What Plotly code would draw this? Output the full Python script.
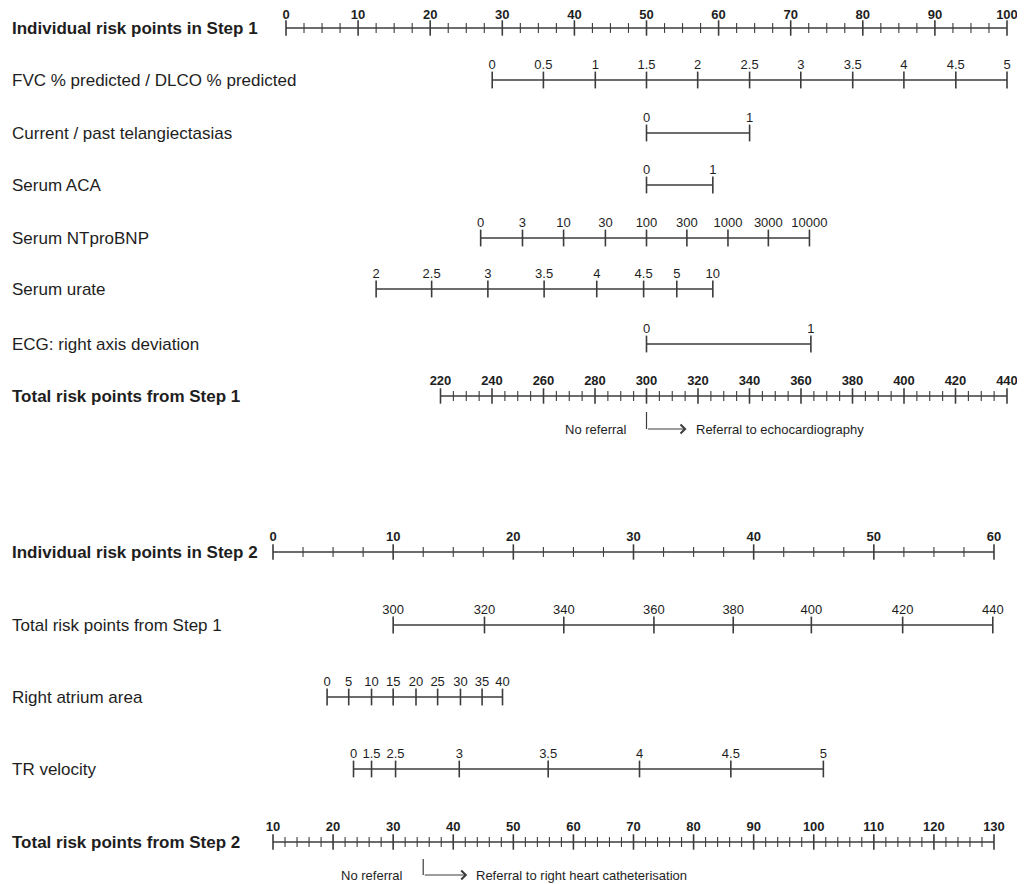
import plotly.graph_objects as go

# ---------------- data ----------------
STEP1_POINT_TICKS = [0, 10, 20, 30, 40, 50, 60, 70, 80, 90, 100]
STEP1_POINT_MINOR_STEP = 2.5

FVC_LABELS = ["0", "0.5", "1", "1.5", "2", "2.5", "3", "3.5", "4", "4.5", "5"]
FVC_POINTS = [28.6, 35.7, 42.9, 50.0, 57.1, 64.3, 71.4, 78.6, 85.7, 92.9, 100.0]

TELANG_LABELS = ["0", "1"]
TELANG_POINTS = [50.0, 64.3]

ACA_LABELS = ["0", "1"]
ACA_POINTS = [50.0, 59.2]

NTPROBNP_LABELS = ["0", "3", "10", "30", "100", "300", "1000", "3000", "10000"]
NTPROBNP_POINTS = [27.0, 32.8, 38.5, 44.3, 50.0, 55.6, 61.3, 66.9, 72.6]

URATE_LABELS = ["2", "2.5", "3", "3.5", "4", "4.5", "5", "10"]
URATE_POINTS = [12.5, 20.2, 28.0, 35.8, 43.1, 49.6, 54.2, 59.2]

ECG_LABELS = ["0", "1"]
ECG_POINTS = [50.0, 72.8]

STEP1_TOTAL_TICKS = [220, 240, 260, 280, 300, 320, 340, 360, 380, 400, 420, 440]
STEP1_TOTAL_MINOR_STEP = 5
STEP1_TOTAL_AT_ZERO = 160
STEP1_TOTAL_PER_POINT = 2.8
STEP1_CUTOFF = 300

STEP2_POINT_TICKS = [0, 10, 20, 30, 40, 50, 60]
STEP2_POINT_MINOR_STEP = 2.5

S1TOTAL_LABELS = ["300", "320", "340", "360", "380", "400", "420", "440"]
S1TOTAL_POINTS = [10.0, 17.6, 24.2, 31.7, 38.3, 44.8, 52.4, 59.9]

RA_LABELS = ["0", "5", "10", "15", "20", "25", "30", "35", "40"]
RA_POINTS = [4.5, 6.3, 8.2, 10.0, 11.9, 13.7, 15.6, 17.4, 19.1]

TRV_LABELS = ["0", "1.5", "2.5", "3", "3.5", "4", "4.5", "5"]
TRV_POINTS = [6.7, 8.2, 10.2, 15.5, 22.9, 30.5, 38.1, 45.8]

STEP2_TOTAL_TICKS = [10, 20, 30, 40, 50, 60, 70, 80, 90, 100, 110, 120, 130]
STEP2_TOTAL_MINOR_STEP = 2
STEP2_TOTAL_AT_ZERO = 10
STEP2_TOTAL_PER_POINT = 2
STEP2_CUTOFF = 35

# ---------------- layout / style ----------------
PAGE_W, PAGE_H = 1025, 884
BODY_MARGIN = 8                      # default page margin around the plot div
W, H = PAGE_W - BODY_MARGIN, PAGE_H - BODY_MARGIN
S1_PX0, S1_PX100 = 286, 1007        # page pixel of 0 and 100 points (step 1)
S2_PX0, S2_PX60 = 273, 994          # page pixel of 0 and 60 points (step 2)
s1_scale = (S1_PX100 - S1_PX0) / 100
s2_scale = (S2_PX60 - S2_PX0) / 60
S1_RANGE = [(BODY_MARGIN - S1_PX0) / s1_scale, (PAGE_W - S1_PX0) / s1_scale]
S2_RANGE = [(BODY_MARGIN - S2_PX0) / s2_scale, (PAGE_W - S2_PX0) / s2_scale]

ROW_Y = {
    "p1": 28, "fvc": 80, "tel": 133, "aca": 185, "nt": 238, "ur": 289,
    "ecg": 344, "t1": 396, "p2": 552, "s1t": 625, "ra": 697, "tr": 769, "t2": 842,
}
LINE_COL = "#3c3c3c"
TEXT_COL = "#1e1e1e"
FONT = "Liberation Sans, Arial, Helvetica, sans-serif"
LABEL_OFFSET = 14

fig = go.Figure()


def frange(a, b, step):
    out, v = [], a
    while v <= b + 1e-9:
        out.append(round(v, 6))
        v += step
    return out


def add_scale(xs, labels, y, xaxis, bold=False, major_size=12, minor_xs=None, minor_size=7,
              label_offset=LABEL_OFFSET):
    xs = list(xs)
    allx = xs + (minor_xs or [])
    fig.add_trace(go.Scatter(x=[min(allx), max(allx)], y=[y, y],
                             mode="lines", xaxis=xaxis, yaxis="y", cliponaxis=False,
                             line=dict(color=LINE_COL, width=1.3), hoverinfo="skip"))
    if minor_xs:
        fig.add_trace(go.Scatter(x=minor_xs, y=[y] * len(minor_xs), mode="markers", xaxis=xaxis, yaxis="y",
                                 cliponaxis=False,
                                 marker=dict(symbol="line-ns", size=minor_size,
                                             line=dict(color=LINE_COL, width=1.1)),
                                 hoverinfo="skip"))
    fig.add_trace(go.Scatter(x=xs, y=[y] * len(xs), mode="markers", xaxis=xaxis, yaxis="y",
                             cliponaxis=False,
                             marker=dict(symbol="line-ns", size=major_size,
                                         line=dict(color=LINE_COL, width=1.6)),
                             hoverinfo="skip"))
    fig.add_trace(go.Scatter(x=xs, y=[y - label_offset] * len(xs), mode="text", text=labels,
                             xaxis=xaxis, yaxis="y", textposition="middle center", cliponaxis=False,
                             textfont=dict(family=FONT, size=13, color=TEXT_COL,
                                           weight="bold" if bold else "normal"),
                             hoverinfo="skip"))


def row_label(text, y, bold=False):
    fig.add_annotation(x=(10 - BODY_MARGIN) / W, xref="paper", xanchor="left", y=y, yref="y",
                       yanchor="middle", text=f"<b>{text}</b>" if bold else text, showarrow=False,
                       font=dict(family=FONT, size=17, color=TEXT_COL))


# ----- Step 1 -----
p1_minor = [v for v in frange(0, 100, STEP1_POINT_MINOR_STEP) if v not in STEP1_POINT_TICKS]
add_scale(STEP1_POINT_TICKS, [str(v) for v in STEP1_POINT_TICKS], ROW_Y["p1"], "x",
          bold=True, major_size=11, minor_xs=p1_minor, label_offset=12)
add_scale(FVC_POINTS, FVC_LABELS, ROW_Y["fvc"], "x")
add_scale(TELANG_POINTS, TELANG_LABELS, ROW_Y["tel"], "x")
add_scale(ACA_POINTS, ACA_LABELS, ROW_Y["aca"], "x")
add_scale(NTPROBNP_POINTS, NTPROBNP_LABELS, ROW_Y["nt"], "x")
add_scale(URATE_POINTS, URATE_LABELS, ROW_Y["ur"], "x")
add_scale(ECG_POINTS, ECG_LABELS, ROW_Y["ecg"], "x")


def t1_to_pts(t):
    return (t - STEP1_TOTAL_AT_ZERO) / STEP1_TOTAL_PER_POINT


t1_minor = [t1_to_pts(v) for v in frange(STEP1_TOTAL_TICKS[0], STEP1_TOTAL_TICKS[-1], STEP1_TOTAL_MINOR_STEP)
            if v not in STEP1_TOTAL_TICKS]
add_scale([t1_to_pts(v) for v in STEP1_TOTAL_TICKS], [str(v) for v in STEP1_TOTAL_TICKS], ROW_Y["t1"], "x",
          bold=True, major_size=11, minor_xs=t1_minor)

# ----- Step 2 -----
p2_minor = [v for v in frange(0, 60, STEP2_POINT_MINOR_STEP) if v not in STEP2_POINT_TICKS]
add_scale(STEP2_POINT_TICKS, [str(v) for v in STEP2_POINT_TICKS], ROW_Y["p2"], "x2",
          bold=True, major_size=11, minor_xs=p2_minor)
add_scale(S1TOTAL_POINTS, S1TOTAL_LABELS, ROW_Y["s1t"], "x2")
add_scale(RA_POINTS, RA_LABELS, ROW_Y["ra"], "x2")
add_scale(TRV_POINTS, TRV_LABELS, ROW_Y["tr"], "x2")


def t2_to_pts(t):
    return (t - STEP2_TOTAL_AT_ZERO) / STEP2_TOTAL_PER_POINT


t2_minor = [t2_to_pts(v) for v in frange(STEP2_TOTAL_TICKS[0], STEP2_TOTAL_TICKS[-1], STEP2_TOTAL_MINOR_STEP)
            if v not in STEP2_TOTAL_TICKS]
add_scale([t2_to_pts(v) for v in STEP2_TOTAL_TICKS], [str(v) for v in STEP2_TOTAL_TICKS], ROW_Y["t2"], "x2",
          bold=True, major_size=11, minor_xs=t2_minor)

# ----- row labels -----
row_label("Individual risk points in Step 1", ROW_Y["p1"], True)
row_label("FVC % predicted / DLCO % predicted", ROW_Y["fvc"])
row_label("Current / past telangiectasias", ROW_Y["tel"])
row_label("Serum ACA", ROW_Y["aca"])
row_label("Serum NTproBNP", ROW_Y["nt"])
row_label("Serum urate", ROW_Y["ur"])
row_label("ECG: right axis deviation", ROW_Y["ecg"])
row_label("Total risk points from Step 1", ROW_Y["t1"], True)
row_label("Individual risk points in Step 2", ROW_Y["p2"], True)
row_label("Total risk points from Step 1", ROW_Y["s1t"])
row_label("Right atrium area", ROW_Y["ra"])
row_label("TR velocity", ROW_Y["tr"])
row_label("Total risk points from Step 2", ROW_Y["t2"], True)


# ----- referral arrows -----
def referral(cut_pts, arrow_len_px, scale, xref, y_top, y_bot, right_text):
    end_pts = cut_pts + arrow_len_px / scale
    fig.add_trace(go.Scatter(x=[cut_pts, cut_pts], y=[y_top, y_bot], mode="lines", xaxis=xref, yaxis="y",
                             line=dict(color=LINE_COL, width=1.2), hoverinfo="skip"))
    fig.add_annotation(x=end_pts, y=y_bot, ax=cut_pts, ay=y_bot, xref=xref, yref="y", axref=xref, ayref="y",
                       text="", showarrow=True, arrowhead=4, arrowsize=1.6, arrowwidth=1.1,
                       arrowcolor=LINE_COL)
    fig.add_annotation(x=cut_pts, y=y_bot, xref=xref, yref="y", xanchor="right", yanchor="middle",
                       xshift=-18, text="No referral", showarrow=False,
                       font=dict(family=FONT, size=13, color=TEXT_COL))
    fig.add_annotation(x=end_pts, y=y_bot, xref=xref, yref="y", xanchor="left", yanchor="middle",
                       xshift=7, text=right_text, showarrow=False,
                       font=dict(family=FONT, size=13, color=TEXT_COL))


referral(t1_to_pts(STEP1_CUTOFF), 40, s1_scale, "x", 412, 429, "Referral to echocardiography")
referral(t2_to_pts(STEP2_CUTOFF), 44, s2_scale, "x2", 859, 875, "Referral to right heart catheterisation")

fig.update_layout(
    width=W, height=H, autosize=False,
    margin=dict(l=0, r=0, t=0, b=0, pad=0),
    paper_bgcolor="white", plot_bgcolor="white",
    showlegend=False,
    xaxis=dict(range=S1_RANGE, visible=False, fixedrange=True),
    xaxis2=dict(range=S2_RANGE, visible=False, overlaying="x", anchor="y", fixedrange=True),
    yaxis=dict(range=[PAGE_H, BODY_MARGIN], visible=False, fixedrange=True),
)

fig.write_html("out.html")
